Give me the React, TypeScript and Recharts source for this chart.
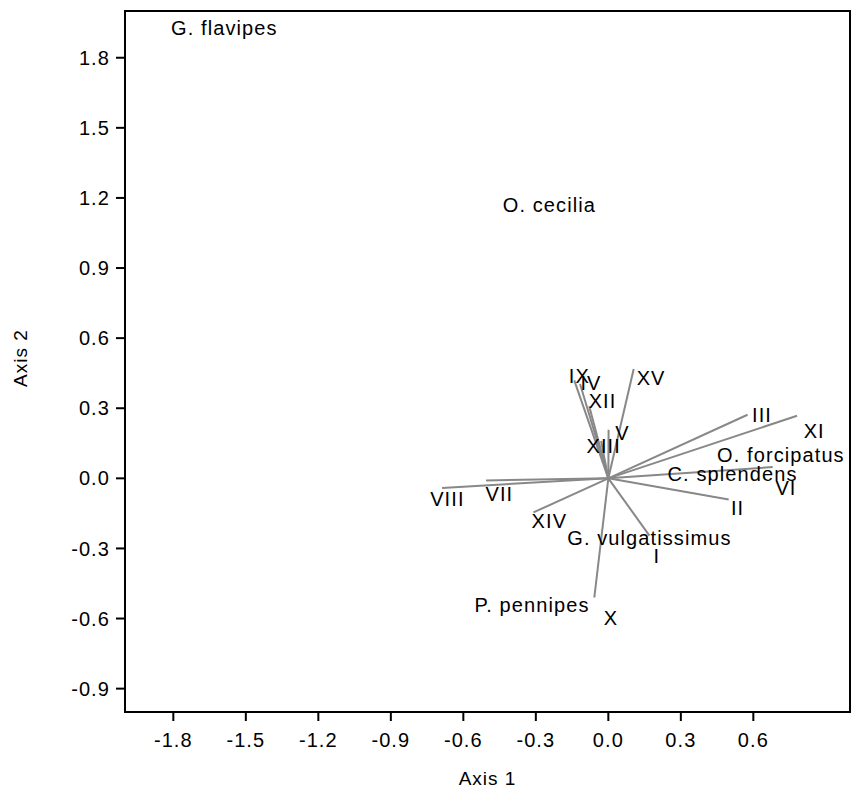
import React from 'react';
import {
  ScatterChart,
  Scatter,
  XAxis,
  YAxis,
  ReferenceLine,
  ReferenceArea,
} from 'recharts';

// Axis ticks
const xTicks = [-1.8, -1.5, -1.2, -0.9, -0.6, -0.3, 0.0, 0.3, 0.6];
const yTicks = [-0.9, -0.6, -0.3, 0.0, 0.3, 0.6, 0.9, 1.2, 1.5, 1.8];

// Vector (variable) names, their endpoints and label positions
const vectorNames = ['I', 'II', 'III', 'IV', 'V', 'VI', 'VII', 'VIII', 'IX', 'X', 'XI', 'XII', 'XIII', 'XIV', 'XV'];
const vectorEndX = [0.17, 0.498, 0.576, -0.117, 0.001, 0.68, -0.506, -0.688, -0.141, -0.058, 0.781, -0.079, -0.03, -0.31, 0.105];
const vectorEndY = [-0.245, -0.091, 0.272, 0.404, 0.208, 0.048, -0.009, -0.041, 0.419, -0.51, 0.268, 0.308, 0.16, -0.146, 0.468];
const vectorLabelX = [0.201, 0.535, 0.636, -0.072, 0.059, 0.735, -0.451, -0.666, -0.12, 0.011, 0.852, -0.024, -0.019, -0.244, 0.177];
const vectorLabelY = [-0.334, -0.127, 0.272, 0.408, 0.194, -0.041, -0.068, -0.09, 0.436, -0.598, 0.201, 0.332, 0.137, -0.184, 0.429];

// Species scores
const speciesNames = ['G. flavipes', 'O. cecilia', 'O. forcipatus', 'C. splendens', 'G. vulgatissimus', 'P. pennipes'];
const speciesX = [-1.589, -0.244, 0.714, 0.514, 0.17, -0.316];
const speciesY = [1.926, 1.168, 0.101, 0.018, -0.255, -0.543];

const vectorLabels = vectorNames.map((name, i) => ({ name, x: vectorLabelX[i], y: vectorLabelY[i] }));
const speciesLabels = speciesNames.map((name, i) => ({ name, x: speciesX[i], y: speciesY[i] }));

const FONT = '"Liberation Sans", Arial, sans-serif';
const FS = 20;
const LS = 1.1;

const LabelShape = (props: any) => {
  const { cx, cy, payload } = props;
  return (
    <text
      x={cx}
      y={cy}
      textAnchor="middle"
      dominantBaseline="central"
      fontFamily={FONT}
      fontSize={FS}
      letterSpacing={LS}
      fill="#000"
    >
      {payload.name}
    </text>
  );
};

const fmt = (v: number) => v.toFixed(1);

export default function App() {
  return (
    <div style={{ position: 'absolute', left: 0, top: 0, width: 851, height: 788, background: '#fff' }}>
      <ScatterChart width={851} height={788} margin={{ top: 11, right: 1, bottom: 0, left: 0 }}>
        <XAxis
          type="number"
          dataKey="x"
          domain={[-2, 1]}
          ticks={xTicks}
          tickFormatter={fmt}
          height={76}
          axisLine={{ stroke: '#000', strokeWidth: 2 }}
          tickLine={{ stroke: '#000', strokeWidth: 2 }}
          tickSize={9}
          tickMargin={12}
          tick={{ fill: '#000', fontFamily: FONT, fontSize: FS, letterSpacing: LS }}
          allowDataOverflow
        />
        <YAxis
          type="number"
          dataKey="y"
          domain={[-1, 2]}
          ticks={yTicks}
          tickFormatter={fmt}
          width={125}
          axisLine={{ stroke: '#000', strokeWidth: 2 }}
          tickLine={{ stroke: '#000', strokeWidth: 2 }}
          tickSize={9}
          tickMargin={6}
          tick={{ fill: '#000', fontFamily: FONT, fontSize: FS, letterSpacing: LS }}
          allowDataOverflow
        />
        <ReferenceArea x1={-2} x2={1} y1={-1} y2={2} fill="none" stroke="#000" strokeWidth={2} ifOverflow="visible" />
        {vectorNames.map((n, i) => (
          <ReferenceLine
            key={n}
            segment={[
              { x: 0, y: 0 },
              { x: vectorEndX[i], y: vectorEndY[i] },
            ]}
            stroke="#888"
            strokeWidth={2}
            ifOverflow="visible"
          />
        ))}
        <Scatter data={vectorLabels} shape={LabelShape} isAnimationActive={false} />
        <Scatter data={speciesLabels} shape={LabelShape} isAnimationActive={false} />
      </ScatterChart>
      <svg width={851} height={788} style={{ position: 'absolute', left: 0, top: 0, pointerEvents: 'none' }}>
        <text x={487.5} y={778} textAnchor="middle" dominantBaseline="central" fontFamily={FONT} fontSize={19} letterSpacing={1} fill="#000">
          Axis 1
        </text>
        <text
          x={20}
          y={358}
          textAnchor="middle"
          dominantBaseline="central"
          fontFamily={FONT}
          fontSize={19}
          letterSpacing={1}
          fill="#000"
          transform="rotate(-90 20 358)"
        >
          Axis 2
        </text>
      </svg>
    </div>
  );
}
